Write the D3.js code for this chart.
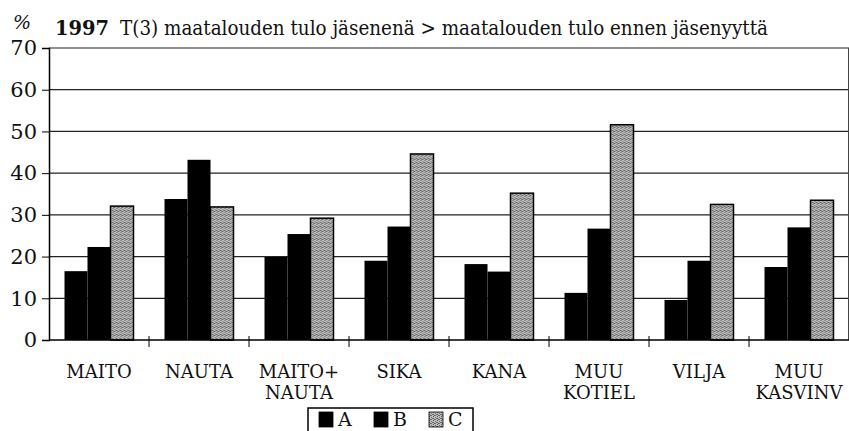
<!DOCTYPE html>
<html>
<head>
<meta charset="utf-8">
<script src="https://cdn.jsdelivr.net/npm/d3@7"></script>
<style>
  body { margin: 0; background: #fff; }
</style>
</head>
<body>
<div id="chart"></div>
<script>
// categories (two-line labels split on \n)
const categories = ['MAITO', 'NAUTA', 'MAITO+\nNAUTA', 'SIKA', 'KANA', 'MUU\nKOTIEL', 'VILJA', 'MUU\nKASVINV'];
const seriesNames = ['A', 'B', 'C'];
const valuesA = [16.5, 33.8, 19.9, 19.0, 18.2, 11.3, 9.6, 17.5];
const valuesB = [22.3, 43.2, 25.4, 27.2, 16.4, 26.7, 19.0, 27.0];
const valuesC = [32.1, 31.9, 29.2, 44.6, 35.2, 51.6, 32.5, 33.5];
const yTicks = [0, 10, 20, 30, 40, 50, 60, 70];

const W = 849, H = 431;
const M = { left: 49, right: 0, top: 48, bottom: 91 };
const FONT = "'DejaVu Serif', serif";

const svg = d3.select('#chart').append('svg')
  .attr('width', W).attr('height', H)
  .style('font-family', FONT);

// stipple pattern for series C (scattered dark dots on mid grey)
const dots = [[0, 0], [2, 1], [1, 3], [3, 2], [0, 2], [2, 3]];
const pat = svg.append('defs').append('pattern')
  .attr('id', 'stip').attr('width', 4).attr('height', 4)
  .attr('patternUnits', 'userSpaceOnUse');
pat.append('rect').attr('width', 4).attr('height', 4).attr('fill', '#bdbdbd');
pat.selectAll('rect.d').data(dots).enter().append('rect').attr('class', 'd')
  .attr('x', d => d[0]).attr('y', d => d[1]).attr('width', 1).attr('height', 1)
  .attr('fill', (d, i) => i % 2 ? '#707070' : '#5a5a5a');

const fills = { A: '#000', B: '#000', C: 'url(#stip)' };

const x0 = d3.scaleBand().domain(categories)
  .range([M.left, W - M.right]).paddingInner(0.31).paddingOuter(0.155);
const x1 = d3.scaleBand().domain(seriesNames).range([0, x0.bandwidth()]);
const y = d3.scaleLinear().domain([0, 70]).range([H - M.bottom, M.top]);

// gridlines
svg.append('g').selectAll('line').data(yTicks.slice(1)).enter().append('line')
  .attr('x1', M.left).attr('x2', W - M.right)
  .attr('y1', d => y(d)).attr('y2', d => y(d))
  .attr('stroke', '#222').attr('stroke-width', 1.2);

// right border
svg.append('line').attr('x1', W - 0.5).attr('x2', W - 0.5)
  .attr('y1', y(70)).attr('y2', y(0)).attr('stroke', '#444');

// bars
const table = categories.map((c, i) => ({ cat: c, vals: [valuesA[i], valuesB[i], valuesC[i]] }));
svg.append('g').selectAll('g').data(table).enter().append('g')
  .attr('transform', d => `translate(${x0(d.cat)},0)`)
  .selectAll('rect')
  .data(d => d.vals.map((v, j) => ({ key: seriesNames[j], v })))
  .enter().append('rect')
  .attr('x', d => x1(d.key))
  .attr('width', x1.bandwidth())
  .attr('y', d => y(d.v))
  .attr('height', d => y(0) - y(d.v))
  .attr('fill', d => fills[d.key])
  .attr('stroke', d => d.key === 'C' ? '#000' : 'none')
  .attr('stroke-width', 1.5);

// y axis
const yAxis = d3.axisLeft(y).tickValues(yTicks).tickSize(7).tickPadding(5);
const gy = svg.append('g').attr('transform', `translate(${M.left},0)`).call(yAxis);
gy.attr('font-family', null).attr('font-size', null);
gy.select('.domain').attr('stroke', '#000').attr('stroke-width', 1.5);
gy.selectAll('.tick line').attr('stroke', '#000');
gy.selectAll('.tick text').attr('fill', '#111').style('font-size', '21px');

// x axis: line at zero + boundary ticks
svg.append('line').attr('x1', M.left).attr('x2', W - M.right)
  .attr('y1', y(0)).attr('y2', y(0)).attr('stroke', '#000').attr('stroke-width', 1.5);
const step = x0.step();
svg.append('g').selectAll('line').data(categories.slice(1)).enter().append('line')
  .attr('x1', d => x0(d) - x0.paddingInner() * step / 2)
  .attr('x2', d => x0(d) - x0.paddingInner() * step / 2)
  .attr('y1', y(0) - 4).attr('y2', y(0) + 7)
  .attr('stroke', '#000');

// category labels
const labels = svg.append('g').selectAll('text').data(categories).enter().append('text')
  .attr('x', d => x0(d) + x0.bandwidth() / 2)
  .attr('y', y(0) + 38)
  .attr('text-anchor', 'middle')
  .style('font-size', '18px').attr('fill', '#111');
labels.selectAll('tspan').data(d => d.split('\n')).enter().append('tspan')
  .attr('x', function () { return d3.select(this.parentNode).attr('x'); })
  .attr('dy', (d, i) => i === 0 ? 0 : 21)
  .text(d => d);

// title
svg.append('text').attr('x', 13).attr('y', 29).style('font-size', '19px')
  .style('font-style', 'italic').attr('fill', '#111').text('%');
svg.append('text').attr('x', 55).attr('y', 35).style('font-size', '20px')
  .style('font-weight', 'bold').attr('fill', '#111')
  .attr('textLength', 54).attr('lengthAdjust', 'spacingAndGlyphs').text('1997');
svg.append('text').attr('x', 120).attr('y', 35).style('font-size', '20px').attr('fill', '#111')
  .attr('textLength', 648).attr('lengthAdjust', 'spacingAndGlyphs')
  .text('T(3) maatalouden tulo jäsenenä > maatalouden tulo ennen jäsenyyttä');

// legend
const lg = svg.append('g').attr('transform', 'translate(308,408)');
lg.append('rect').attr('width', 165).attr('height', 30)
  .attr('fill', '#fff').attr('stroke', '#000').attr('stroke-width', 1.5);
const li = lg.selectAll('g').data(seriesNames).enter().append('g')
  .attr('transform', (d, i) => `translate(${11 + i * 55},4)`);
li.append('rect').attr('width', 14).attr('height', 15)
  .attr('fill', d => fills[d]).attr('stroke', '#000').attr('stroke-width', 0.8);
li.append('text').attr('x', 19).attr('y', 14).style('font-size', '19px').attr('fill', '#111').text(d => d);
</script>
</body>
</html>
